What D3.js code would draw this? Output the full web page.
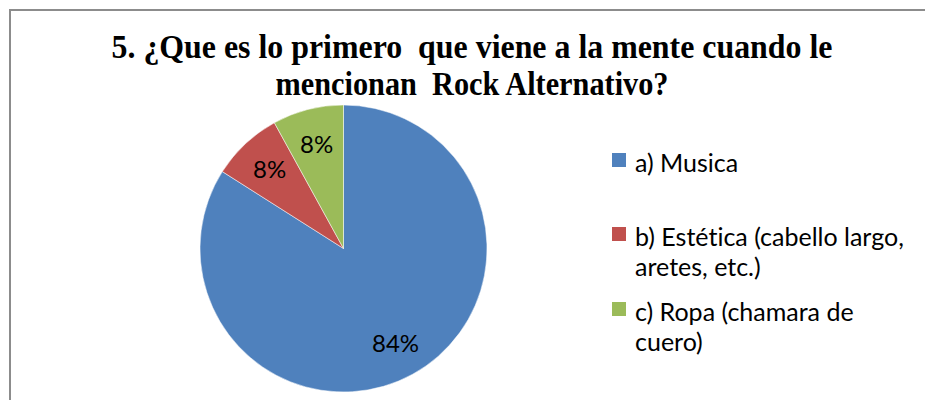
<!doctype html>
<html lang="es">
  <head>
    <meta charset="utf-8">
    <title>Rock Alternativo</title>
    <style>
      body { margin: 0; background: #fff; }
      svg { display: block; }
      text { font-variant-ligatures: none; }
    </style>
  </head>
  <body>
    <script src="https://cdn.jsdelivr.net/npm/d3@7/dist/d3.min.js"></script>
    <script>
      var categories = ["a) Musica", "b) Estética (cabello largo, aretes, etc.)", "c) Ropa (chamara de cuero)"];
      var values = [84, 8, 8];
      var colors = ["#4F81BD", "#C0504D", "#9BBB59"];
      var legendLines = [["a) Musica"], ["b) Estética (cabello largo,", "aretes, etc.)"], ["c) Ropa (chamara de", "cuero)"]];
      var titleLines = ["5. ¿Que es lo primero  que viene a la mente cuando le", "mencionan  Rock Alternativo?"];

      var width = 925, height = 400;

      var svg = d3.select("body")
        .append("svg")
        .attr("width", width)
        .attr("height", height);

      // chart area frame (runs off the right/bottom edge)
      svg.append("path")
        .attr("d", "M10,400 L10,10 L925,10")
        .attr("fill", "none")
        .attr("stroke", "#8c8c8c")
        .attr("stroke-width", 2);

      // title, squeezed to the widths it has in the picture
      var titleWidths = [721, 393];
      svg.selectAll(".title")
        .data(titleLines)
        .enter()
        .append("text")
        .attr("class", "title")
        .attr("x", 472)
        .attr("y", function(d, i){ return 58 + i * 37; })
        .attr("text-anchor", "middle")
        .attr("textLength", function(d, i){ return titleWidths[i]; })
        .attr("lengthAdjust", "spacingAndGlyphs")
        .style("font-family", "'Liberation Serif', 'Times New Roman', serif")
        .style("font-weight", "bold")
        .style("font-size", "34px")
        .style("white-space", "pre")
        .text(function(d){ return d; });

      // pie
      var data = categories.map(function(c, i){ return {name: c, value: values[i], color: colors[i]}; });
      var total = d3.sum(values);
      var radius = 143.5;

      var pie = d3.pie()
        .sort(null)
        .value(function(d){ return d.value; });

      var arc = d3.arc().innerRadius(0).outerRadius(radius);
      var labelArc = d3.arc().innerRadius(108).outerRadius(108);

      var g = svg.append("g")
        .attr("transform", "translate(343.5,248.5)");

      var slices = g.selectAll(".slice")
        .data(pie(data))
        .enter()
        .append("g")
        .attr("class", "slice");

      slices.append("path")
        .attr("d", arc)
        .attr("fill", function(d){ return d.data.color; })
        .attr("stroke", "#ffffff")
        .attr("stroke-width", 0.5);

      slices.append("text")
        .attr("transform", function(d){ return "translate(" + labelArc.centroid(d) + ")"; })
        .attr("dy", "0.36em")
        .attr("text-anchor", "middle")
        .style("font-family", "Lato, 'Open Sans', sans-serif")
        .style("font-size", "24px")
        .style("fill", "#000")
        .text(function(d){ return Math.round(d.data.value / total * 100) + "%"; });

      // legend
      var legendY = [153, 227, 302];
      var legend = svg.selectAll(".legend")
        .data(data)
        .enter()
        .append("g")
        .attr("class", "legend")
        .attr("transform", function(d, i){ return "translate(612," + legendY[i] + ")"; });

      legend.append("rect")
        .attr("width", 14)
        .attr("height", 14)
        .attr("fill", function(d){ return d.color; });

      legend.append("text")
        .attr("x", 23)
        .attr("y", 19)
        .style("font-family", "Lato, 'Open Sans', sans-serif")
        .style("font-size", "25px")
        .style("fill", "#000")
        .selectAll("tspan")
        .data(function(d, i){ return legendLines[i]; })
        .enter()
        .append("tspan")
        .attr("x", 23)
        .attr("dy", function(d, i){ return i === 0 ? 0 : 30; })
        .text(function(d){ return d; });
    </script>
  </body>
</html>
